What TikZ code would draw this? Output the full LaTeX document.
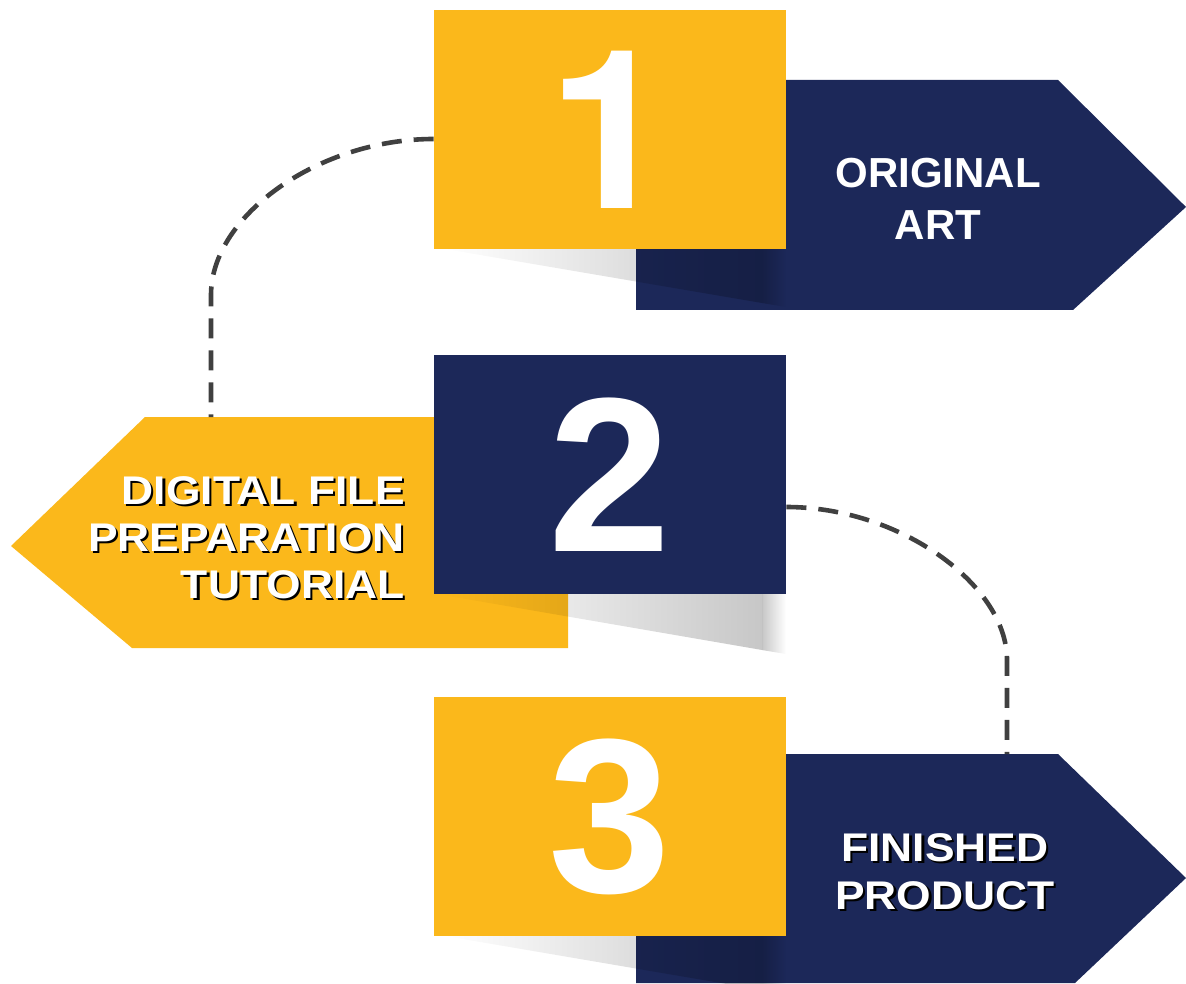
\documentclass[tikz,border=0pt]{standalone}
\usepackage{fontspec}
\setmainfont{Liberation Sans}
\newfontfamily\lblfont{Liberation Sans}[FakeStretch=1.11]
\newfontfamily\onefont{TeX Gyre Heros}
\usetikzlibrary{fadings}
\definecolor{gold}{RGB}{251,184,27}
\definecolor{navy}{RGB}{28,40,89}
\definecolor{dashgray}{RGB}{64,64,64}
\newcommand\shtext[1]{\rlap{\kern1.1pt\smash{\raisebox{-1.1pt}{\color{black}#1}}}#1}
\begin{document}
\begin{tikzpicture}[x=0.5pt,y=-0.5pt,
  sq/.style={minimum width=176pt, minimum height=119.5pt, inner sep=0pt, text=white,
    font=\bfseries\fontsize{110}{110}\selectfont},
  shade/.style={black, opacity=0.22, path fading=west},
  shadeend/.style={black, opacity=0.22, path fading=east},
  dashline/.style={draw=dashgray, line width=2.3pt, dash pattern=on 10pt off 6pt},
  lbl/.style={text=white, inner sep=0pt}
]
\useasboundingbox (0,0) rectangle (1186,983);

% step 1
\fill[navy] (636,80) -- (1058,80) -- (1186,207) -- (1073,310) -- (636,310) -- cycle;
\fill[shade] (445,249) -- (762,249) -- (762,303) -- cycle;
\fill[shadeend] (762,249) -- (786,249) -- (786,307) -- (762,303) -- cycle;
\node[sq, fill=gold, font=\onefont\bfseries\fontsize{111}{111}\selectfont] (s1) at (610,129.5) {1};

% step 2
\fill[gold] (145,417) -- (568,417) -- (568,648) -- (132,648) -- (11,546) -- cycle;
\fill[shade] (437,594) -- (762,594) -- (762,650) -- cycle;
\fill[shadeend] (762,594) -- (786,594) -- (786,654) -- (762,650) -- cycle;
\node[sq, fill=navy] (s2) at (610,474.5) {2};

% step 3
\fill[navy] (636,754) -- (1058,754) -- (1186,878) -- (1075,983) -- (636,983) -- cycle;
\fill[shade] (445,936) -- (762,936) -- (762,990) -- cycle;
\fill[shadeend] (762,936) -- (786,936) -- (786,994) -- (762,990) -- cycle;
\node[sq, fill=gold] (s3) at (610,816.5) {3};

% labels
\node[lbl, align=center, font=\bfseries\fontsize{21}{26}\selectfont] (t1) at (938,198.5) {ORIGINAL\\ART};
\node[lbl, align=right, anchor=east, font=\lblfont\bfseries\fontsize{20}{23.5}\selectfont] (t2) at (405,537.5)
  {\shtext{DIGITAL FILE}\\\shtext{PREPARATION}\\\shtext{TUTORIAL}};
\node[lbl, align=center, font=\lblfont\bfseries\fontsize{20}{24}\selectfont] (t3) at (945,871.5)
  {\shtext{FINISHED}\\\shtext{PRODUCT}};

% connectors
\coordinate (c1) at (211,417);
\coordinate (c2) at (1007,754);
\draw[dashline] ([yshift=-4.75pt]s1.west) .. controls (320,139) and (211,215) .. (211,295) -- (c1);
\draw[dashline] ([yshift=-16.25pt]s2.east) .. controls (900,507) and (1007,585) .. (1007,660) -- (c2);
\end{tikzpicture}
\end{document}
